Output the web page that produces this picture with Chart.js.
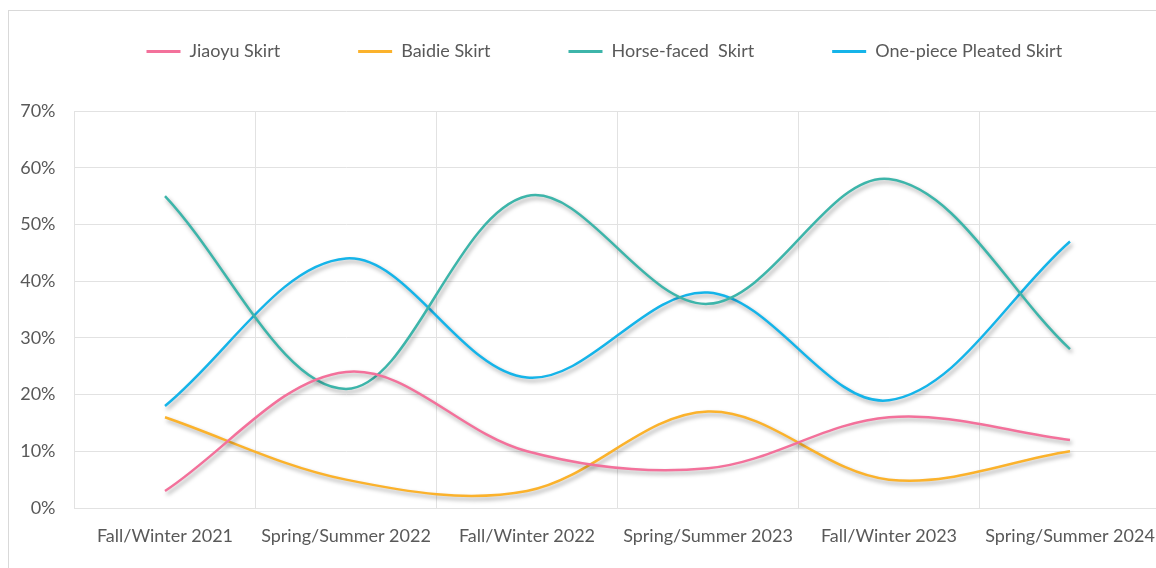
<!DOCTYPE html>
<html>
<head>
<meta charset="utf-8">
<script src="https://cdn.jsdelivr.net/npm/chart.js@4.4.1/dist/chart.umd.min.js"></script>
<style>
  html, body { margin: 0; padding: 0; background: #fff; overflow: hidden; }
  #frame { position: absolute; left: 8px; top: 10px; width: 1300px; height: 700px; border: 1px solid #d9d9d9; }
  #wrap { position: absolute; left: 0; top: 0; width: 1180px; height: 568px; }
</style>
</head>
<body>
<div id="frame"></div>
<div id="wrap"><canvas id="chart"></canvas></div>
<script>
var seasons = ['Fall/Winter 2021', 'Spring/Summer 2022', 'Fall/Winter 2022', 'Spring/Summer 2023', 'Fall/Winter 2023', 'Spring/Summer 2024'];
var jiaoyu = [3, 24, 10, 7, 16, 12];
var baidie = [16, 5, 3, 17, 5, 10];
var horseFaced = [55, 21, 55, 36, 58, 28];
var onePiece = [18, 44, 23, 38, 19, 47];

var textColor = '#595959';
var gridColor = '#e2e2e2';
var fontFamily = 'Lato';

// soft grey drop shadow under every line, like the Excel original
var lineShadow = {
    id: 'lineShadow',
    beforeLayout: function (chart) {
        // leave a gap between the legend and the plot
        var lg = chart.legend;
        if (lg && !lg._tall) {
            var fit = lg.fit;
            lg.fit = function () {
                fit.call(this);
                this.height += 40.5;
            };
            lg._tall = true;
        }
    },
    afterLayout: function (chart) {
        chart.legend.left -= 6;
    },
    beforeDatasetDraw: function (chart) {
        var c = chart.ctx;
        c.save();
        c.shadowColor = 'rgba(0, 0, 0, 0.35)';
        c.shadowBlur = 4;
        c.shadowOffsetX = 2;
        c.shadowOffsetY = 3;
    },
    afterDatasetDraw: function (chart) {
        chart.ctx.restore();
    }
};

function series(label, data, color) {
    return {
        label: label,
        data: data,
        borderColor: color,
        backgroundColor: color,
        borderWidth: 2.5,
        pointRadius: 0,
        fill: false,
        tension: 0.35
    };
}

new Chart(document.getElementById('chart'), {
    type: 'line',
    data: {
        labels: seasons,
        datasets: [
            series('Jiaoyu Skirt', jiaoyu, '#f3719b'),
            series('Baidie Skirt', baidie, '#fbb22c'),
            series('Horse-faced  Skirt', horseFaced, '#3db5aa'),
            series('One-piece Pleated Skirt', onePiece, '#15b4e9')
        ]
    },
    plugins: [lineShadow],
    options: {
        responsive: true,
        maintainAspectRatio: false,
        animation: false,
        layout: { padding: { top: -35.5, right: 19.5, bottom: 0, left: 0 } },
        plugins: {
            tooltip: { enabled: false },
            legend: {
                position: 'top',
                align: 'start',
                fullSize: false,
                labels: {
                    boxWidth: 34,
                    boxHeight: 3,
                    padding: 78,
                    color: textColor,
                    font: { family: fontFamily, size: 18 },
                    generateLabels: function (chart) {
                        return chart.data.datasets.map(function (ds, i) {
                            return {
                                text: ds.label,
                                fillStyle: ds.borderColor,
                                strokeStyle: ds.borderColor,
                                lineWidth: 0,
                                fontColor: textColor,
                                datasetIndex: i
                            };
                        });
                    }
                }
            }
        },
        scales: {
            x: {
                offset: true,
                grid: { offset: true, color: gridColor, drawTicks: false },
                border: { color: gridColor },
                ticks: {
                    color: textColor,
                    padding: 17,
                    maxRotation: 0,
                    autoSkip: false,
                    font: { family: fontFamily, size: 18 }
                },
                afterFit: function (scale) { scale.height = 60; }
            },
            y: {
                min: 0,
                max: 70,
                grid: { color: gridColor, drawTicks: false },
                border: { display: false },
                ticks: {
                    stepSize: 10,
                    color: textColor,
                    padding: 19,
                    font: { family: fontFamily, size: 18 },
                    callback: function (v) { return v + '%'; }
                },
                afterFit: function (scale) { scale.width = 74.5; }
            }
        }
    }
});
</script>
</body>
</html>
